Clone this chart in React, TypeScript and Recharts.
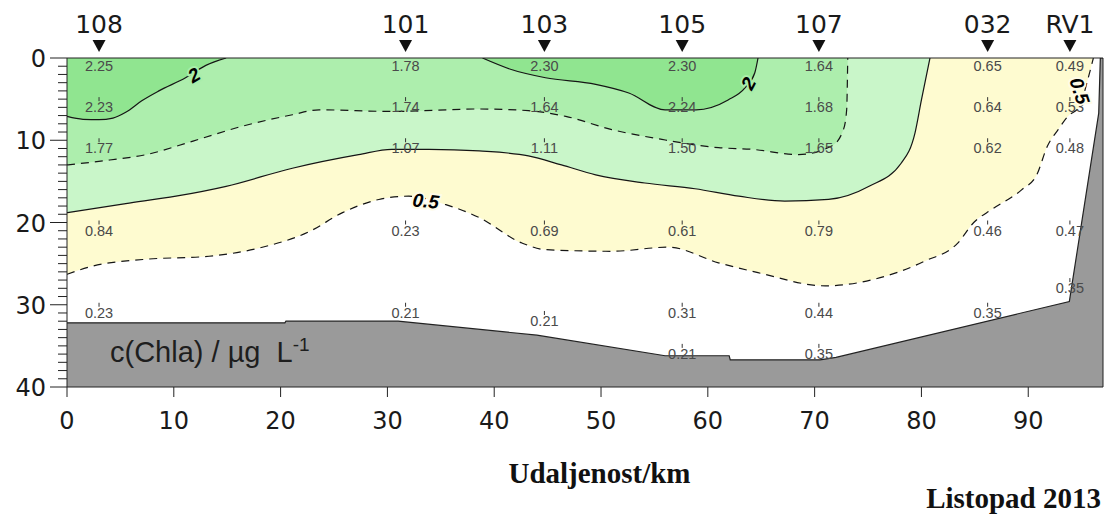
import React from 'react';
import { ComposedChart, Area, Line, Scatter, XAxis, YAxis, ReferenceLine } from 'recharts';

// ---- axes ----
const xTicks = [0, 10, 20, 30, 40, 50, 60, 70, 80, 90];
const yTicks = [0,1,2,3,4,5,6,7,8,9,10,11,12,13,14,15,16,17,18,19,20,21,22,23,24,25,26,27,28,29,30,31,32,33,34,35,36,37,38,39,40];
const xMax = 97;

// ---- stations ----
const stationNames = ['108', '101', '103', '105', '107', '032', 'RV1'];
const stationKm = [3.0, 31.7, 44.7, 57.6, 70.4, 86.2, 93.9];

// ---- samples (depth m, Chla) per station ----
const depths108 = [0, 5, 10, 20, 30];
const chla108 = [2.25, 2.23, 1.77, 0.84, 0.23];
const depths101 = [0, 5, 10, 20, 30];
const chla101 = [1.78, 1.74, 1.07, 0.23, 0.21];
const depths103 = [0, 5, 10, 20, 31];
const chla103 = [2.30, 1.64, 1.11, 0.69, 0.21];
const depths105 = [0, 5, 10, 20, 30, 35];
const chla105 = [2.30, 2.24, 1.50, 0.61, 0.31, 0.21];
const depths107 = [0, 5, 10, 20, 30, 35];
const chla107 = [1.64, 1.68, 1.65, 0.79, 0.44, 0.35];
const depths032 = [0, 5, 10, 20, 30];
const chla032 = [0.65, 0.64, 0.62, 0.46, 0.35];
const depthsRV1 = [0, 5, 10, 20, 27];
const chlaRV1 = [0.49, 0.53, 0.48, 0.47, 0.35];

// ---- contour lines (km, depth) ----
const c2aKm = [0, 1.5, 3, 4.3, 5.5, 7, 8.6, 11.1, 13, 14.9];
const c2aDepth = [7.1, 7.45, 7.5, 7.3, 6.6, 5.2, 4.0, 2.4, 0.9, 0];
const c2bKm = [38.9, 41.6, 44.8, 49.5, 52.6, 56, 58.9, 61.9, 63.5, 64.4, 64.7];
const c2bDepth = [0, 1.4, 2.4, 3.2, 4.25, 6.3, 6.3, 5.1, 3.6, 1.8, 0];
const c15Km = [0, 4, 7.4, 11.8, 16.4, 21.1, 23.6, 30.4, 38.6, 43.2, 46.7, 51, 55.7, 61, 64.1, 68.5, 71.6, 72.7, 73, 73.1];
const c15Depth = [13.0, 12.4, 11.75, 10.1, 8.3, 6.9, 6.3, 6.5, 6.2, 6.4, 7.1, 8.7, 9.9, 10.9, 11.1, 11.75, 10.7, 8.7, 6.3, 0];
const c10Km = [0, 5.5, 10.2, 14.9, 21.1, 27.3, 30.4, 33.9, 38.6, 43.2, 46.3, 49.5, 54.1, 58.8, 62.9, 67.2, 71.3, 75.1, 78.1, 79.4, 80, 80.8];
const c10Depth = [18.8, 17.7, 16.8, 15.6, 13.4, 11.75, 11.1, 11.1, 11.3, 11.9, 13.0, 14.2, 15.2, 15.9, 16.8, 17.4, 17.2, 15.6, 12.8, 9.1, 5.1, 0];
const c05Km = [0, 2.4, 7.1, 13.3, 18, 22.7, 25.8, 29.2, 32, 35.4, 38.6, 42.6, 44.8, 51, 56.3, 61, 64.7, 71, 75.6, 80.3, 83.4, 84.9, 86.6, 89.4, 90.8, 91.8, 92.8, 93.7, 94.8, 95.6, 96.1];
const c05Depth = [26.3, 25.3, 24.5, 24.1, 23.1, 21.1, 18.8, 17.2, 16.8, 17.8, 19.4, 22.5, 23.3, 23.5, 23.0, 24.9, 26.1, 27.7, 26.9, 24.7, 22.5, 20.0, 18.4, 16.0, 14.2, 10.7, 8.7, 7.1, 5.9, 2.5, 0];

// ---- seabed (blank) ----
const seabedKm = [0, 20.4, 20.5, 31, 44, 56, 62, 62.1, 70.5, 72, 93.85, 96.6, 96.75, 97];
const seabedDepth = [32.2, 32.2, 32.0, 32.0, 33.7, 36.2, 36.2, 36.7, 36.7, 36.4, 29.6, 6.7, 0, 0];

// ---- contour labels ----
const contourLabelText = ['2', '2', '0.5', '0.5'];
const contourLabelKm = [11.9, 63.8, 33.6, 94.8];
const contourLabelDepth = [2.1, 3.1, 17.4, 4.0];
const contourLabelAngle = [-30, -62, 6, 72];
const contourLabelHalo = ['#A9EDA9', '#A9EDA9', '#FEFBE6', '#FEFBE6'];

// ---- styles ----
const C_YELLOW = '#FEFBD0';
const C_G1 = '#C9F6C9';
const C_G2 = '#ADEEAD';
const C_G3 = '#90E590';
const C_SEABED = '#9A9A9A';
const C_LINE = '#151515';

const zip = (xs: number[], ds: number[]) => xs.map((x, i) => ({ x, d: ds[i] }));

const samples: { x: number; d: number; v: number }[] = [];
const addSamples = (st: number, ds: number[], vs: number[]) =>
  ds.forEach((d, i) => samples.push({ x: stationKm[st], d, v: vs[i] }));
addSamples(0, depths108, chla108);
addSamples(1, depths101, chla101);
addSamples(2, depths103, chla103);
addSamples(3, depths105, chla105);
addSamples(4, depths107, chla107);
addSamples(5, depths032, chla032);
addSamples(6, depthsRV1, chlaRV1);

const c2a = zip(c2aKm, c2aDepth);
const c2b = zip(c2bKm, c2bDepth);
const c15 = zip(c15Km, c15Depth);
const c10 = zip(c10Km, c10Depth);
const c05 = zip(c05Km, c05Depth);
const seabed = zip(seabedKm, seabedDepth);
const contourLabels = contourLabelText.map((t, i) => ({
  x: contourLabelKm[i], d: contourLabelDepth[i], t, a: contourLabelAngle[i], h: contourLabelHalo[i],
}));

const AXIS_FONT = 'DejaVu Sans, Verdana, sans-serif';

const YTick = (props: any) => {
  const { x, y, payload } = props;
  const v = payload.value;
  const major = v % 10 === 0;
  return (
    <g>
      <line x1={x - (major ? 17 : 9)} x2={x} y1={y} y2={y} stroke="#222" strokeWidth={1} />
      {major && (
        <text x={x - 21} y={y + 9} textAnchor="end" fontSize={24} fontFamily={AXIS_FONT} fill="#1a1a1a">
          {v}
        </text>
      )}
    </g>
  );
};

const XTick = (props: any) => {
  const { x, y, payload } = props;
  return (
    <g>
      <line x1={x} x2={x} y1={y} y2={y + 10} stroke="#222" strokeWidth={1} />
      <text x={x} y={y + 42} textAnchor="middle" fontSize={24} fontFamily={AXIS_FONT} fill="#1a1a1a">
        {payload.value}
      </text>
    </g>
  );
};

const TopTick = (props: any) => {
  const { x, y, index } = props;
  return (
    <g>
      <text x={x} y={y - 25} textAnchor="middle" fontSize={25} fontFamily={AXIS_FONT} fill="#1a1a1a">
        {stationNames[index]}
      </text>
      <polygon points={`${x - 6.5},${y - 18} ${x + 6.5},${y - 18} ${x},${y - 6}`} fill="#111" />
    </g>
  );
};

const SampleShape = (props: any) => {
  const { cx, cy, payload } = props;
  return (
    <g>
      {payload.d > 0 && <line x1={cx} x2={cx} y1={cy - 2} y2={cy + 2} stroke="#333" strokeWidth={1} />}
      <text x={cx} y={cy + 13} textAnchor="middle" fontSize={14.5} fontFamily="Liberation Sans, Arial, sans-serif" fill="#4a4a4a">
        {payload.v.toFixed(2)}
      </text>
    </g>
  );
};

const ContourLabelShape = (props: any) => {
  const { cx, cy, payload } = props;
  return (
    <text
      x={cx}
      y={cy}
      transform={`rotate(${payload.a} ${cx} ${cy})`}
      textAnchor="middle"
      dominantBaseline="central"
      fontSize={19}
      fontWeight="bold"
      fontStyle="italic"
      fontFamily="Liberation Sans, Arial, sans-serif"
      fill="#000"
      stroke={payload.h}
      strokeWidth={4}
      paintOrder="stroke"
    >
      {payload.t}
    </text>
  );
};

const rangeTop = (p: any) => [0, p.d];
const rangeBottom = (p: any) => [p.d, 40];

export default function App() {
  return (
    <div style={{ position: 'absolute', left: 0, top: 0, width: 1107, height: 515, background: '#fff' }}>
      <ComposedChart width={1107} height={515} margin={{ top: 0, right: 4, bottom: 0, left: 0 }}>
        <XAxis
          xAxisId="top"
          orientation="top"
          type="number"
          dataKey="x"
          domain={[0, xMax]}
          allowDataOverflow
          ticks={stationKm}
          interval={0}
          height={58}
          tickSize={0}
          tickMargin={0}
          tickLine={false}
          axisLine={{ stroke: '#222', strokeWidth: 1 }}
          tick={<TopTick />}
        />
        <XAxis
          type="number"
          dataKey="x"
          domain={[0, xMax]}
          allowDataOverflow
          ticks={xTicks}
          interval={0}
          height={128}
          tickSize={0}
          tickMargin={0}
          tickLine={false}
          axisLine={{ stroke: '#222', strokeWidth: 1 }}
          tick={<XTick />}
        />
        <YAxis
          type="number"
          dataKey="d"
          domain={[0, 40]}
          reversed
          allowDataOverflow
          ticks={yTicks}
          interval={0}
          width={67}
          tickSize={0}
          tickMargin={0}
          tickLine={false}
          axisLine={{ stroke: '#222', strokeWidth: 1 }}
          tick={<YTick />}
        />

        <Area data={c05} dataKey={rangeTop} type="monotone" fill={C_YELLOW} fillOpacity={1} stroke="none" isAnimationActive={false} />
        <Area data={c10} dataKey={rangeTop} type="monotone" fill={C_G1} fillOpacity={1} stroke="none" isAnimationActive={false} />
        <Area data={c15} dataKey={rangeTop} type="monotone" fill={C_G2} fillOpacity={1} stroke="none" isAnimationActive={false} />
        <Area data={c2a} dataKey={rangeTop} type="monotone" fill={C_G3} fillOpacity={1} stroke="none" isAnimationActive={false} />
        <Area data={c2b} dataKey={rangeTop} type="monotone" fill={C_G3} fillOpacity={1} stroke="none" isAnimationActive={false} />
        <Area data={seabed} dataKey={rangeBottom} type="linear" fill={C_SEABED} fillOpacity={1} stroke="none" isAnimationActive={false} />

        <Line data={c05} dataKey="d" type="monotone" stroke={C_LINE} strokeWidth={1.2} strokeDasharray="8 6" dot={false} activeDot={false} isAnimationActive={false} />
        <Line data={c10} dataKey="d" type="monotone" stroke={C_LINE} strokeWidth={1.2} dot={false} activeDot={false} isAnimationActive={false} />
        <Line data={c15} dataKey="d" type="monotone" stroke={C_LINE} strokeWidth={1.2} strokeDasharray="8 6" dot={false} activeDot={false} isAnimationActive={false} />
        <Line data={c2a} dataKey="d" type="monotone" stroke={C_LINE} strokeWidth={1.2} dot={false} activeDot={false} isAnimationActive={false} />
        <Line data={c2b} dataKey="d" type="monotone" stroke={C_LINE} strokeWidth={1.2} dot={false} activeDot={false} isAnimationActive={false} />
        <Line data={seabed} dataKey="d" type="linear" stroke="#222" strokeWidth={1.2} dot={false} activeDot={false} isAnimationActive={false} />

        <ReferenceLine x={xMax} stroke="#222" strokeWidth={1} ifOverflow="extendDomain" />

        <Scatter data={samples} shape={<SampleShape />} isAnimationActive={false} />
        <Scatter data={contourLabels} shape={<ContourLabelShape />} isAnimationActive={false} />
      </ComposedChart>

      <div style={{ position: 'absolute', left: 110, top: 336, fontFamily: 'Liberation Sans, Arial, sans-serif', fontSize: 29, color: '#1e1e1e', whiteSpace: 'pre', lineHeight: '32px' }}>
        c(Chla) / µg  L<sup style={{ fontSize: 19, verticalAlign: 'top', position: 'relative', top: -7 }}>-1</sup>
      </div>
      <div style={{ position: 'absolute', left: 0, width: 1107, top: 456, textAlign: 'center', paddingLeft: 92, boxSizing: 'border-box', fontFamily: 'Liberation Serif, Times New Roman, serif', fontWeight: 'bold', fontSize: 29, color: '#111', lineHeight: '34px' }}>
        Udaljenost/km
      </div>
      <div style={{ position: 'absolute', right: 6, top: 481, fontFamily: 'Liberation Serif, Times New Roman, serif', fontWeight: 'bold', fontSize: 29, color: '#111', lineHeight: '34px' }}>
        Listopad 2013
      </div>
    </div>
  );
}
